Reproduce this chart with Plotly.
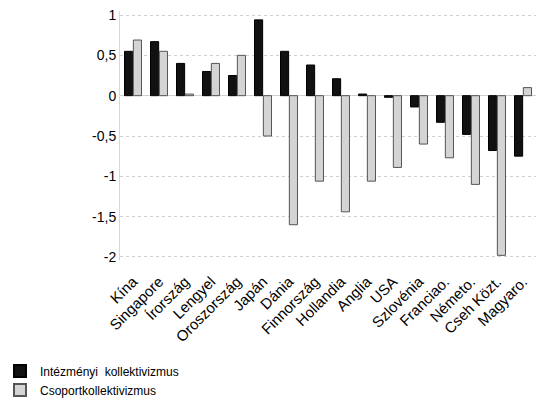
import plotly.graph_objects as go

countries = ["Kína", "Singapore", "Írország", "Lengyel", "Oroszország", "Japán", "Dánia",
             "Finnország", "Hollandia", "Anglia", "USA", "Szlovénia", "Franciao.", "Németo.",
             "Cseh Közt.", "Magyaro."]
intezmenyi = [0.55, 0.67, 0.40, 0.30, 0.25, 0.94, 0.55, 0.38, 0.21, 0.02, -0.02, -0.14,
              -0.33, -0.48, -0.68, -0.75]
csoport = [0.69, 0.55, 0.02, 0.40, 0.50, -0.50, -1.60, -1.06, -1.44, -1.06, -0.89, -0.60,
           -0.77, -1.10, -1.98, 0.10]
ytick_vals = [1, 0.5, 0, -0.5, -1, -1.5, -2]
ytick_text = ["1", "0,5", "0", "-0,5", "-1", "-1,5", "-2"]

fig = go.Figure()
fig.add_trace(go.Bar(x=countries, y=intezmenyi, name="Intézményi  kollektivizmus",
                     marker=dict(color="#111111", line=dict(color="#000000", width=1))))
fig.add_trace(go.Bar(x=countries, y=csoport, name="Csoportkollektivizmus",
                     marker=dict(color="#d4d4d4", line=dict(color="#555555", width=1))))

fig.update_layout(
    width=539, height=402,
    margin=dict(l=120, r=3, t=11, b=141, autoexpand=False),
    paper_bgcolor="white", plot_bgcolor="white",
    barmode="group", bargap=0.32, bargroupgap=0.08,
    font=dict(family="Liberation Sans, Arial, sans-serif", size=14, color="#000000"),
    showlegend=True,
    legend=dict(xref="container", yref="container", x=0.0, y=0.113,
                xanchor="left", yanchor="top",
                orientation="v", font=dict(size=12), bgcolor="rgba(0,0,0,0)",
                tracegroupgap=0, itemwidth=30, itemsizing="constant"),
)
fig.update_xaxes(tickangle=-45, showgrid=False, showline=False, ticks="",
                 tickfont=dict(size=15), ticklabelstandoff=8, automargin=False)
fig.update_yaxes(range=[-2.05, 1.05], tickvals=ytick_vals, ticktext=ytick_text,
                 showgrid=True, gridcolor="#d0d0d0", griddash="dot", gridwidth=1,
                 zeroline=True, zerolinecolor="#d0d0d0", zerolinewidth=1,
                 showline=True, linecolor="#d8d8d8", linewidth=1,
                 ticks="", tickfont=dict(size=14), automargin=False)

fig.write_html("out.html", config={"displayModeBar": False},
               post_script="document.body.style.margin='0';document.body.style.overflow='hidden';")
